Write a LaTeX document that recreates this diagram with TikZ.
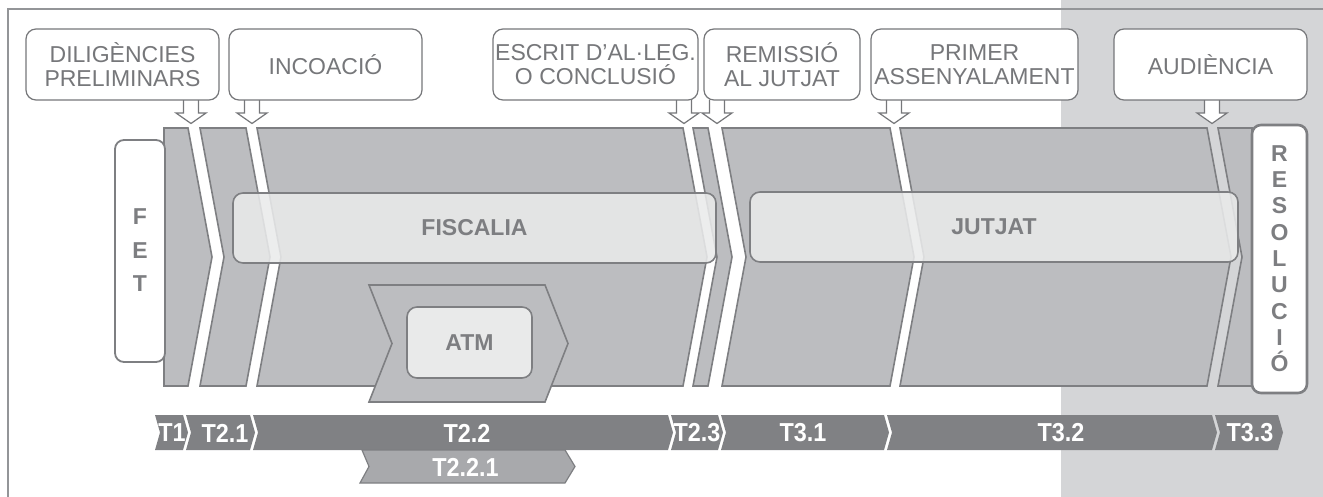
\documentclass[tikz,border=0pt]{standalone}
\usepackage{fontspec}
\setmainfont{Liberation Sans}
\newfontfamily\narrowsans[FakeStretch=0.9]{Liberation Sans}
\definecolor{segfill}{HTML}{BCBDC0}
\definecolor{segline}{HTML}{7E7F82}
\definecolor{boxfill}{HTML}{E9EAEA}
\definecolor{barfill}{HTML}{808184}
\definecolor{subbar}{HTML}{A8A9AC}
\definecolor{rightbg}{HTML}{D4D5D7}
\definecolor{frameline}{HTML}{939598}
\definecolor{txtgray}{HTML}{76777A}
\definecolor{labgray}{HTML}{7D7E81}
\tikzset{
  topbox/.style={draw=txtgray, line width=1.2pt, fill=white, rounded corners=10pt,
    minimum height=71pt, inner sep=0pt, align=center, text=txtgray,
    font=\fontsize{23}{24.5}\selectfont},
  harr/.style={draw=txtgray, line width=1.2pt, fill=white, line join=miter},
  seg/.style={draw=segline, line width=1.6pt, fill=segfill, line join=miter},
  glass/.style={draw=segline, line width=1.6pt, fill=boxfill, fill opacity=0.88,
    text opacity=1, rounded corners=10pt, inner sep=0pt, text=labgray,
    font=\bfseries\fontsize{23}{24}\selectfont},
  sidebox/.style={draw=segline, fill=white, rounded corners=9pt, inner sep=0pt},
  sidelet/.style={inner sep=0pt, anchor=base, text=labgray, font=\bfseries\fontsize{23}{24}\selectfont},
  bar/.style={fill=barfill, draw=none},
  subbarsty/.style={fill=subbar, draw=segline, line width=1.2pt, line join=miter},
  tlabel/.style={text=white, inner sep=0pt, font=\narrowsans\bfseries\fontsize{26}{26}\selectfont}
}
\newcommand{\harrow}[1]{\draw[harr] (#1-7.5,100) -- (#1-7.5,113) -- (#1-15,113) -- (#1,123.5) -- (#1+15,113) -- (#1+7.5,113) -- (#1+7.5,100);}
\newcommand{\bbar}[2]{\fill[bar] (#1,415) -- (#2,415) -- (#2+5,432.5) -- (#2,450) -- (#1,450) -- (#1+5,432.5) -- cycle;}
\begin{document}
\begin{tikzpicture}[x=1pt,y=-1pt]
\useasboundingbox (0,0) rectangle (1323,497);
% right background
\fill[rightbg] (1061,0) rectangle (1323,497);
% frame
\draw[frameline, line width=1.5pt] (8,497) -- (8,9) -- (1323,9);
% hollow arrows
\harrow{191}
\harrow{252}
\harrow{684}
\harrow{717}
\harrow{894}
\harrow{1212}
% top label boxes
\node[topbox, minimum width=193pt] (dil) at (122.5,64.5) {DILIGÈNCIES\\PRELIMINARS};
\node[topbox, minimum width=193pt] (inc) at (325.5,64.5) {INCOACIÓ};
\node[topbox, minimum width=205pt] (esc) at (595.5,64.5) {ESCRIT D'AL·LEG.\\O CONCLUSIÓ};
\node[topbox, minimum width=156pt] (rem) at (782,64.5) {REMISSIÓ\\AL JUTJAT};
\node[topbox, minimum width=207pt] (pri) at (974.5,64.5) {PRIMER\\ASSENYALAMENT};
\node[topbox, minimum width=193pt] (aud) at (1210.5,64.5) {AUDIÈNCIA};
% band segments
\draw[seg] (164,128) -- (188,128) -- (212,257) -- (188,386) -- (164,386) -- cycle;
\foreach \L/\R in {200/246, 257/683, 693/708, 722/890, 900/1207}
  \draw[seg] (\L,128) -- (\R,128) -- (\R+24,257) -- (\R,386) -- (\L,386) -- (\L+24,257) -- cycle;
\draw[seg] (1218,128) -- (1252,128) -- (1252,386) -- (1218,386) -- (1242,257) -- cycle;
% ATM chevron
\draw[seg] (369,285) -- (545,285) -- (568,343.5) -- (545,402) -- (369,402) -- (392,343.5) -- cycle;
% glass boxes
\node[glass, minimum width=483pt, minimum height=70pt] (fisc) at (474.5,228) {FISCALIA};
\node[glass, minimum width=488pt, minimum height=70pt] (jut) at (994,227) {JUTJAT};
\node[glass, fill opacity=1, minimum width=125pt, minimum height=71pt] (atm) at (469.5,342.5) {ATM};
% side boxes
\node[sidebox, line width=1.8pt, minimum width=50pt, minimum height=222pt] (fet) at (140,251) {};
\foreach \ch/\yy [count=\i] in {F/216, E/250, T/283.5}
  \node[sidelet] (fet\i) at (140,\yy+8.2) {\ch};
\node[sidebox, line width=2.6pt, minimum width=55pt, minimum height=268pt] (res) at (1279.5,259) {};
\foreach \ch [count=\i from 0] in {R,E,S,O,L,U,C,I,Ó}
  \node[sidelet] (res\i) at (1279.5,161.5+26.25*\i) {\ch};
% bottom timeline
\bbar{155}{183}
\bbar{186}{250}
\bbar{253}{668}
\bbar{671}{718}
\bbar{721}{884}
\bbar{887}{1212}
\bbar{1215}{1278}
\draw[subbarsty] (362,450) -- (565,450) -- (575,466.5) -- (565,483) -- (360,483) -- (369,466.5) -- cycle;
\node[tlabel] (t1) at (172,433) {T1};
\node[tlabel] (t21) at (225,433) {T2.1};
\node[tlabel] (t22) at (467,433) {T2.2};
\node[tlabel] (t23) at (697,433) {T2.3};
\node[tlabel] (t31) at (803,433) {T3.1};
\node[tlabel] (t32) at (1061,433) {T3.2};
\node[tlabel] (t33) at (1250,433) {T3.3};
\node[tlabel] (t221) at (465.5,467) {T2.2.1};
\end{tikzpicture}
\end{document}
